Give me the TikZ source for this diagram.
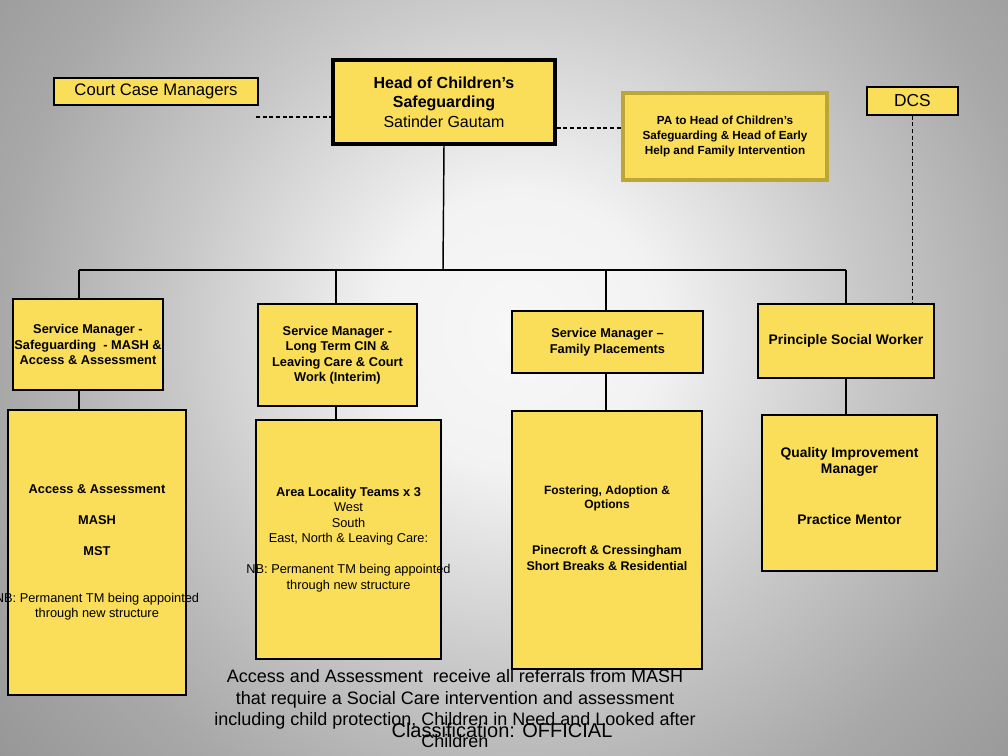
\documentclass[tikz,border=0pt]{standalone}
\usepackage{fontspec}
\setmainfont{Liberation Sans}
\usepackage{xcolor}
\usepackage{tikz}
\definecolor{boxyellow}{RGB}{250,222,90}
\definecolor{paedge}{RGB}{190,165,55}
\pgfdeclareradialshading{backdrop}{\pgfpoint{0bp}{0bp}}{rgb(0bp)=(0.97,0.97,0.97); rgb(5bp)=(0.95,0.95,0.95); rgb(12bp)=(0.79,0.79,0.79); rgb(18.6bp)=(0.66,0.66,0.66); rgb(25bp)=(0.58,0.58,0.58); rgb(50bp)=(0.58,0.58,0.58)}
\tikzstyle{block} = [rectangle, draw=black, line width=0.9pt,
    fill=boxyellow, inner sep=0pt, align=center,
    font=\fontsize{9.6}{11.6}\selectfont\bfseries]
\tikzstyle{conn} = [line width=0.8pt]
\tikzstyle{dashconn} = [line width=0.8pt, dash pattern=on 3pt off 2pt]
\tikzset{sz/.style 2 args={minimum width=#1*0.75pt, minimum height=#2*0.75pt}}
\newcommand{\wideline}[1]{\makebox[0pt]{#1}}

\begin{document}
\begin{tikzpicture}[x=0.75pt, y=-0.75pt]
  \useasboundingbox (0,0) rectangle (1008,756);
  \begin{scope}
    \clip (0,0) rectangle (1008,756);
    \shade[shading=backdrop] (520,330) circle (525pt);
  \end{scope}

  \node (court) [block, sz={204}{27}, font=\fontsize{12.5}{15}\selectfont] at (156,91.5) {Court Case Managers};
  \node (head)  [block, sz={222}{84}, line width=2.4pt, font=\fontsize{12}{14.6}\selectfont] at (444,102)
    {\textbf{Head of Children’s}\\\textbf{Safeguarding}\\Satinder Gautam};
  \node (pa)    [block, sz={204}{87}, draw=paedge, line width=2.6pt, font=\fontsize{8.8}{11.2}\selectfont\bfseries] at (725,136.5)
    {PA to Head of Children’s\\Safeguarding \& Head of Early\\Help and Family Intervention};
  \node (dcs)   [block, sz={91}{28}, font=\fontsize{13}{15}\selectfont] at (912.5,101) {DCS};

  \node (smsafe) [block, sz={150}{91}] at (88,344.5)
    {Service Manager -\\\wideline{Safeguarding~ - MASH \&}\\Access \& Assessment};
  \node (smcin)  [block, sz={159}{102}] at (337.5,355)
    {Service Manager -\\Long Term CIN \&\\Leaving Care \& Court\\Work (Interim)};
  \node (smfp)   [block, sz={191}{62}] at (607.5,342) {Service Manager –\\Family Placements};
  \node (psw)    [block, sz={176}{74}, font=\fontsize{10.4}{12}\selectfont\bfseries] at (846,341) {Principle Social Worker};

  \node (aa)  [block, sz={178}{285}] at (97,552.5)
    {Access \& Assessment\\[11.6pt]MASH\\[11.6pt]MST\\[23.6pt]\wideline{\mdseries NB: Permanent TM being appointed}\\{\mdseries through new structure}};
  \node (alt) [block, sz={185}{239}] at (348.5,539.5)
    {Area Locality Teams x 3\\{\mdseries West}\\{\mdseries South}\\{\mdseries East, North \& Leaving Care:}\\[11.6pt]\wideline{\mdseries NB: Permanent TM being appointed}\\{\mdseries through new structure}};
  \node (fp)  [block, sz={190}{258}, font=\fontsize{9}{10.5}\selectfont\bfseries] at (607,540)
    {Fostering, Adoption \&\\Options\\[24pt]{\fontsize{9.4}{12}\selectfont Pinecroft \& Cressingham}\\[1.5pt]{\fontsize{9.4}{12}\selectfont Short Breaks \& Residential}\\[7.5pt]\mbox{}};
  \node (qim) [block, sz={175}{156}, font=\fontsize{10.4}{12}\selectfont\bfseries] at (849.5,493)
    {Quality Improvement\\Manager\\[26.25pt]Practice Mentor\\[-0.75pt]\mbox{}};

  \node (note) [align=center, font=\fontsize{13.5}{16.2}\selectfont] at (455,708.5)
    {Access and Assessment~ receive all referrals from MASH\\that require a Social Care intervention and assessment\\including child protection, Children in Need and Looked after\\Children};
  \node (classif) [font=\fontsize{15}{18}\selectfont] at (502,730) {Classification: OFFICIAL};

  \coordinate (bus) at (443,270);
  \coordinate (b1) at (79,270);
  \coordinate (b2) at (336,270);
  \coordinate (b3) at (606,270);
  \coordinate (b4) at (846,270);
  \draw[conn, line width=1.1pt] (head.south) -- (bus);
  \draw[conn, line width=1.3pt] (b1) -- (b4);
  \draw[conn] (b1) -- (b1 |- smsafe.north);
  \draw[conn] (b2) -- (b2 |- smcin.north);
  \draw[conn] (b3) -- (b3 |- smfp.north);
  \draw[conn] (b4) -- (b4 |- psw.north);
  \draw[conn] (b1 |- smsafe.south) -- (b1 |- aa.north);
  \draw[conn] (b2 |- smcin.south) -- (b2 |- alt.north);
  \draw[conn] (b3 |- smfp.south) -- (b3 |- fp.north);
  \draw[conn] (b4 |- psw.south) -- (b4 |- qim.north);

  \coordinate (ccm) at (256,117);
  \coordinate (pal) at (590,128);
  \draw[dashconn] (ccm) -- (ccm -| head.west);
  \draw[dashconn] (pal -| head.east) -- (pal -| pa.west);
  \draw[dashconn] (dcs.south) -- (dcs.south |- psw.north);
\end{tikzpicture}
\end{document}
